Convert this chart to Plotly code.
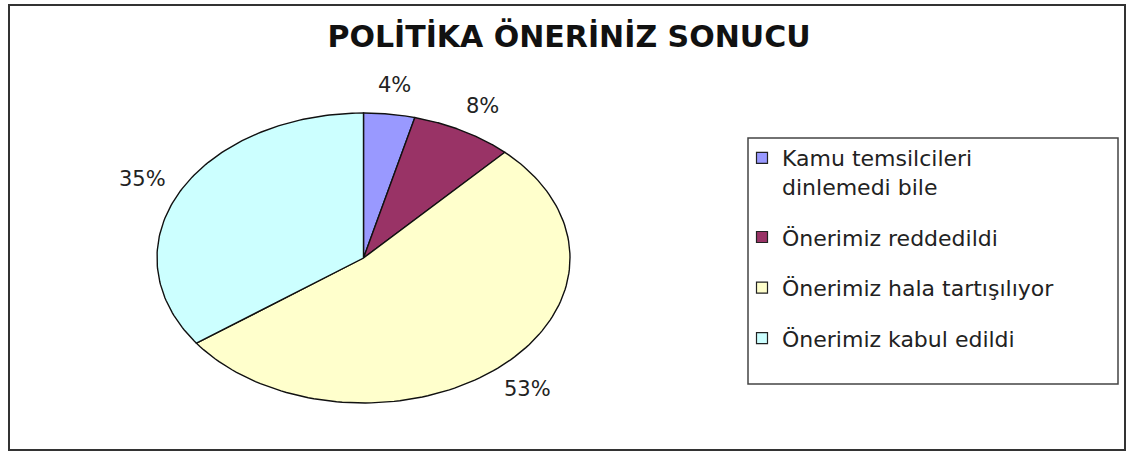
import numpy as np
import plotly.graph_objects as go

# Survey result: outcome of the policy proposals (percent)
categories = [
    "Kamu temsilcileri<br>dinlemedi bile",
    "Önerimiz reddedildi",
    "Önerimiz hala tartışılıyor",
    "Önerimiz kabul edildi",
]
percentages = [4, 8, 53, 35]
slice_colors = ["#9999FF", "#993366", "#FFFFCC", "#CCFFFF"]
title_text = "POLİTİKA ÖNERİNİZ SONUCU"

W, H = 1128, 452
FONT = "DejaVu Sans"

fig = go.Figure()

# Slices drawn clockwise from 12 o'clock on a unit circle; the unequal
# axis scaling turns the circle into the wide ellipse of the chart.
total = float(sum(percentages))
start = 0.0
label_r = 1.2
for name, val, col in zip(categories, percentages, slice_colors):
    frac0, frac1 = start / total, (start + val) / total
    theta = np.linspace(frac0, frac1, 120) * 2 * np.pi
    xs = np.concatenate([[0.0], np.sin(theta), [0.0]])
    ys = np.concatenate([[0.0], np.cos(theta), [0.0]])
    fig.add_trace(go.Scatter(
        x=xs, y=ys, mode="lines", fill="toself", fillcolor=col,
        line=dict(color="#111111", width=1.4),
        showlegend=False, hoverinfo="skip", legendgroup=name,
    ))
    mid = (frac0 + frac1) / 2 * 2 * np.pi
    fig.add_annotation(
        x=label_r * np.sin(mid), y=label_r * np.cos(mid),
        xref="x", yref="y", text=f"{val}%", showarrow=False,
        font=dict(family=FONT, size=21, color="#222222"),
        xanchor="center", yanchor="middle",
    )
    start += val

# Legend entries with square swatches
for name, col in zip(categories, slice_colors):
    fig.add_trace(go.Scatter(
        x=[None], y=[None], mode="markers", name=name, legendgroup=name,
        marker=dict(symbol="square", size=11, color=col,
                    line=dict(color="#222222", width=1.2)),
    ))

# Pie geometry in pixels
cx, cy, rx, ry = 363.5, 258.0, 206.5, 145.0
xr, yr = 1.5, 1.3
x0p, x1p = cx - rx * xr, cx + rx * xr
y0p, y1p = cy - ry * yr, cy + ry * yr

fig.update_layout(
    width=W, height=H,
    margin=dict(l=0, r=0, t=0, b=0),
    paper_bgcolor="white", plot_bgcolor="rgba(0,0,0,0)",
    xaxis=dict(domain=[x0p / W, x1p / W], range=[-xr, xr], visible=False,
               fixedrange=True),
    yaxis=dict(domain=[1 - y1p / H, 1 - y0p / H], range=[-yr, yr],
               visible=False, fixedrange=True),
    title=dict(text=title_text, x=569 / W, xanchor="center",
               y=1 - 36 / H, yanchor="middle",
               font=dict(family=FONT, size=30, color="#111111",
                         weight="bold")),
    showlegend=True,
    legend=dict(
        x=742 / W, xanchor="left", y=1 - 137 / H, yanchor="top",
        font=dict(family=FONT, size=22, color="#222222"),
        bgcolor="rgba(0,0,0,0)", borderwidth=0,
        traceorder="grouped", tracegroupgap=19, valign="top",
        itemclick=False, itemdoubleclick=False,
    ),
    shapes=[
        # outer chart frame
        dict(type="rect", xref="paper", yref="paper",
             x0=9 / W, x1=1125 / W, y0=1 - 450 / H, y1=1 - 5 / H,
             line=dict(color="#333333", width=2)),
        # legend frame
        dict(type="rect", xref="paper", yref="paper",
             x0=748 / W, x1=1118 / W, y0=1 - 384 / H, y1=1 - 138 / H,
             line=dict(color="#444444", width=1.5)),
    ],
)

fig.write_html("out.html")
